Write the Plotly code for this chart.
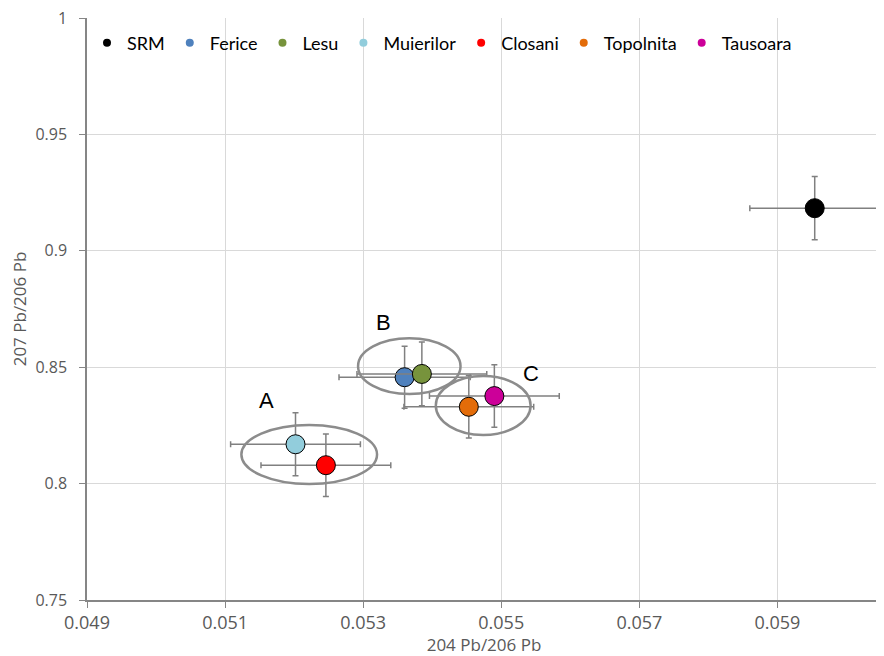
import plotly.graph_objects as go

# Data
names = ["SRM", "Ferice", "Lesu", "Muierilor", "Closani", "Topolnita", "Tausoara"]
x_vals = [0.05954, 0.05360, 0.05385, 0.05202, 0.05246, 0.05453, 0.05490]
y_vals = [0.9183, 0.8457, 0.8471, 0.8169, 0.8079, 0.8330, 0.8376]
x_err = [0.00094, 0.00095, 0.00094, 0.00094, 0.00094, 0.00094, 0.00094]
y_err = [0.0136, 0.0133, 0.0137, 0.0135, 0.0134, 0.0134, 0.0134]
colors = ["#000000", "#4F81BD", "#77933C", "#92CDDC", "#FF0000", "#E36C09", "#CC0099"]

# Group ellipses (x0, x1, y0, y1) and labels
group_labels = ["A", "B", "C"]
ellipse_x0 = [0.051236, 0.052926, 0.054052]
ellipse_x1 = [0.053201, 0.054410, 0.055425]
ellipse_y0 = [0.79983, 0.83849, 0.82088]
ellipse_y1 = [0.82517, 0.86242, 0.84622]
label_x = [0.05160, 0.05330, 0.05543]
label_y = [0.8359, 0.8694, 0.8471]

x_ticks = [0.049, 0.051, 0.053, 0.055, 0.057, 0.059]
y_ticks = [0.75, 0.8, 0.85, 0.9, 0.95, 1]
y_ticktext = ["0.75", "0.8", "0.85", "0.9", "0.95", "1"]

fig = go.Figure()

for i in range(len(group_labels)):
    fig.add_shape(type="circle", xref="x", yref="y",
                  x0=ellipse_x0[i], x1=ellipse_x1[i], y0=ellipse_y0[i], y1=ellipse_y1[i],
                  line=dict(color="#8C8C8C", width=2.5), layer="above")
    fig.add_annotation(x=label_x[i], y=label_y[i], text=group_labels[i], showarrow=False,
                       font=dict(family="Liberation Sans, Arial", size=22, color="#000000"))

for i, n in enumerate(names):
    fig.add_trace(go.Scatter(
        x=[x_vals[i]], y=[y_vals[i]], mode="markers", name=n, showlegend=False,
        marker=dict(size=19, color=colors[i], line=dict(color="#000000", width=1)),
        error_x=dict(type="data", array=[x_err[i]], color="#808080", thickness=1.5, width=3),
        error_y=dict(type="data", array=[y_err[i]], color="#808080", thickness=1.5, width=3),
    ))

# legend entries with small dots
for i, n in enumerate(names):
    fig.add_trace(go.Scatter(
        x=[None], y=[None], mode="markers", name=n, showlegend=True,
        marker=dict(size=8, color=colors[i]),
    ))

# page body has an 8px margin, so the figure is sized/offset accordingly
fig.update_layout(
    width=876, height=648,
    margin=dict(l=79, r=3, t=10, b=56),
    paper_bgcolor="white", plot_bgcolor="white",
    showlegend=True,
    legend=dict(orientation="h", x=0.0, xanchor="left", y=0.957, yanchor="middle",
                bgcolor="rgba(0,0,0,0)", font=dict(family="Lato, Calibri, sans-serif", size=18, color="#000000"),
                itemclick=False, tracegroupgap=0),
    xaxis=dict(range=[0.049, 0.0605], tickvals=x_ticks, ticktext=[f"{v:.3f}" for v in x_ticks],
               automargin=False, ticklabeloverflow="allow",
               showgrid=True, gridcolor="#D9D9D9", gridwidth=1,
               showline=True, linecolor="#868686", linewidth=1.5,
               ticks="outside", ticklen=6, tickcolor="#868686",
               tickfont=dict(family="Open Sans, sans-serif", size=18, color="#595959"),
               title=dict(text="204 Pb/206 Pb",
                          font=dict(family="Open Sans, sans-serif", size=17, color="#595959")),
               zeroline=False),
    yaxis=dict(range=[0.75, 1.0], tickvals=y_ticks, ticktext=y_ticktext,
               automargin=False, ticklabeloverflow="allow",
               showgrid=True, gridcolor="#D9D9D9", gridwidth=1,
               showline=True, linecolor="#868686", linewidth=1.5,
               ticks="outside", ticklen=6, tickcolor="#868686", ticklabelstandoff=9,
               tickfont=dict(family="Open Sans, sans-serif", size=16, color="#595959"),
               title=dict(text="207 Pb/206 Pb",
                          font=dict(family="Open Sans, sans-serif", size=17, color="#595959")),
               zeroline=False),
)

fig.write_html("out.html")
